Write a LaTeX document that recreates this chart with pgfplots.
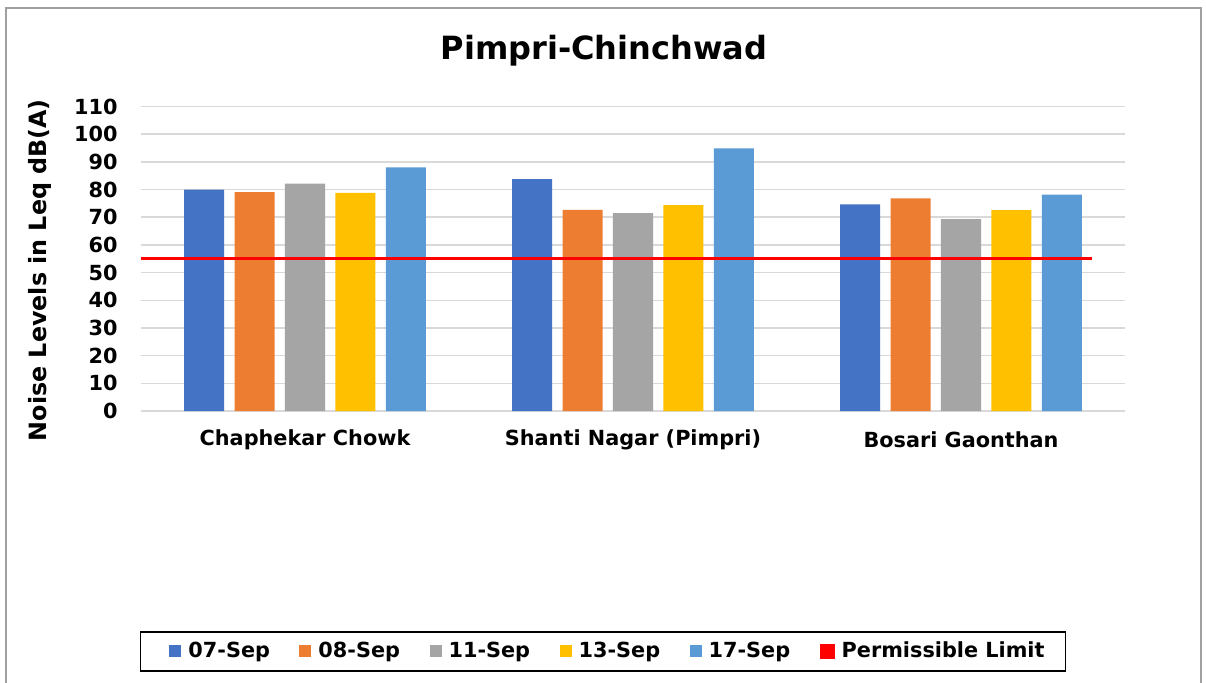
\documentclass[border=0pt]{standalone}
\usepackage{pgfplots}
\pgfplotsset{compat=1.18}
\usepackage{fontspec}
\setmainfont{DejaVu Sans}
\definecolor{c1}{HTML}{4472C4}
\definecolor{c2}{HTML}{ED7D31}
\definecolor{c3}{HTML}{A5A5A5}
\definecolor{c4}{HTML}{FFC000}
\definecolor{c5}{HTML}{5B9BD5}
\definecolor{gridc}{HTML}{D9D9D9}
\definecolor{borderc}{HTML}{A0A0A0}
\pgfplotsset{
  sq/.style={legend image code/.code={\fill[##1] (0pt,-3pt) rectangle (6pt,3pt);}},
  sqfirst/.style={legend image code/.code={\path (-6pt,0pt); \fill[##1] (0pt,-3pt) rectangle (6pt,3pt);}},
  mybar/.style={ybar, bar width=0.122, bar shift=0pt, fill=#1, draw=none, sq},
}
\begin{document}
\begin{tikzpicture}
\useasboundingbox (-70.5pt,-135.5pt) rectangle (532.5pt,205.5pt);
\fill[white] (-70.5pt,-135.5pt) rectangle (532.5pt,205.5pt);
\draw[borderc, line width=0.8pt] (-67.5pt,-140pt) -- (-67.5pt,201.5pt) -- (530pt,201.5pt) -- (530pt,-140pt);
\begin{axis}[
  at={(0pt,0pt)}, anchor=south west,
  scale only axis, width=492pt, height=152.2pt,
  xmin=-0.5, xmax=2.5, ymin=0, ymax=110,
  xtick={0,1,2},
  xticklabels={Chaphekar Chowk, Shanti Nagar (Pimpri), Bosari Gaonthan},
  ytick={0,10,...,110},
  major tick length=0pt,
  axis line style={draw=none},
  ymajorgrids, grid style={draw=gridc, line width=0.8pt},
  /pgf/number format/assume math mode=true,
  ticklabel style={font=\fontsize{10.4}{12}\selectfont\bfseries},
  yticklabel style={anchor=east, inner sep=0pt, xshift=-11.5pt},
  xticklabel style={anchor=center, inner sep=0pt, yshift=-14.5pt},
  title={Pimpri-Chinchwad},
  title style={at={(axis description cs:0.4705,1.144)}, anchor=center, font=\fontsize{16}{19}\selectfont\bfseries},
  ylabel={Noise Levels in Leq dB(A)},
  ylabel style={at={(axis description cs:-0.1026,0.463)}, anchor=center, font=\fontsize{11.9}{14}\selectfont\bfseries},
  legend columns=6,
  legend style={at={(axis description cs:0.4695,-0.790)}, anchor=center,
    draw=black, line width=0.9pt,
    font=\fontsize{10.4}{12}\selectfont\bfseries,
    inner xsep=8.5pt, inner ysep=3.2pt,
    /tikz/every odd column/.append style={column sep=1.5pt},
    /tikz/every even column/.append style={column sep=12.75pt}},
]
\addplot[mybar=c1, sqfirst] coordinates {(-0.3075,80.0) (0.6925,83.8) (1.6925,74.7)};
\addlegendentry{07-Sep}
\addplot[mybar=c2] coordinates {(-0.1537,79.1) (0.8463,72.7) (1.8463,76.8)};
\addlegendentry{08-Sep}
\addplot[mybar=c3] coordinates {(0,82.2) (1,71.5) (2,69.3)};
\addlegendentry{11-Sep}
\addplot[mybar=c4] coordinates {(0.1537,78.8) (1.1537,74.4) (2.1537,72.6)};
\addlegendentry{13-Sep}
\addplot[mybar=c5] coordinates {(0.3075,88.0) (1.3075,94.9) (2.3075,78.2)};
\addlegendentry{17-Sep}
\addplot[red, line width=1.5pt, no markers, sq] coordinates {(-0.5,55) (2.4,55)};
\addlegendentry{Permissible Limit}
\end{axis}
\end{tikzpicture}
\end{document}
